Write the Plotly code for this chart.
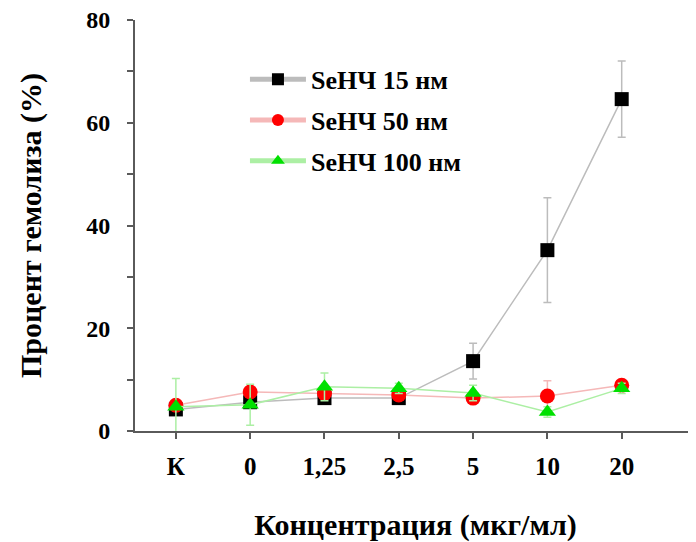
import plotly.graph_objects as go

categories = ["К", "0", "1,25", "2,5", "5", "10", "20"]
se15 = [4.2, 5.6, 6.4, 6.4, 13.6, 35.2, 64.6]
se15_err = [1.0, 1.0, 1.0, 1.0, 3.5, 10.2, 7.4]
se50 = [5.0, 7.6, 7.3, 7.0, 6.4, 6.8, 8.9]
se50_err = [1.0, 1.0, 1.0, 1.0, 1.0, 3.0, 1.0]
se100 = [4.7, 5.1, 8.6, 8.3, 7.4, 3.7, 8.3]
se100_err = [5.5, 4.0, 2.7, 1.0, 1.5, 1.0, 1.0]
names = ["SeНЧ 15 нм", "SeНЧ 50 нм", "SeНЧ 100 нм"]

FONT = "Liberation Serif, Times New Roman, serif"

fig = go.Figure()
specs = [
    (se15, se15_err, names[0], "#000000", "#bcbcbc", "square", 14),
    (se50, se50_err, names[1], "#ff0000", "#f5b8b8", "circle", 15),
    (se100, se100_err, names[2], "#00e000", "#acefa4", "triangle-up", 15),
]
for i, (y, e, n, mc, lc, sym, sz) in enumerate(specs):
    fig.add_trace(go.Scatter(
        x=categories, y=y, name=n, mode="lines+markers",
        legendgroup=str(i),
        line=dict(color=lc, width=1.5),
        marker=dict(color=mc, symbol=sym, size=sz),
        error_y=dict(type="data", array=e, visible=True, color=lc, thickness=1.5, width=4),
    ))

fig.update_layout(
    width=688, height=534,
    margin=dict(l=127, r=0, t=12, b=111),
    plot_bgcolor="white", paper_bgcolor="white",
    font=dict(family=FONT, size=22, color="black", weight="bold"),
    showlegend=True,
    legend=dict(
        x=0.196, y=0.913, xanchor="left", yanchor="top",
        font=dict(family=FONT, size=26, color="black", weight="bold"),
        bgcolor="rgba(0,0,0,0)", tracegroupgap=4, traceorder="grouped",
        itemsizing="constant", itemwidth=56,
    ),
    xaxis=dict(
        type="category", categoryorder="array", categoryarray=categories,
        range=[-0.55, 7.0], automargin=False,
        showline=True, linecolor="#5a5a5a", linewidth=2,
        ticks="outside", ticklen=6, tickcolor="#5a5a5a", tickwidth=2,
        minor=dict(ticks="outside", ticklen=6, tickcolor="#5a5a5a", tickwidth=2),
        showgrid=False, zeroline=False, ticklabelstandoff=6,
        ticklabeloverflow="allow",
        tickfont=dict(family=FONT, size=25, weight="bold"),
        title=dict(text="Концентрация (мкг/мл)", font=dict(family=FONT, size=30, weight="bold"), standoff=46),
    ),
    yaxis=dict(
        range=[0, 80], tickvals=[0, 20, 40, 60, 80], automargin=False,
        showline=True, linecolor="#5a5a5a", linewidth=2,
        ticks="outside", ticklen=6, tickcolor="#5a5a5a", tickwidth=2,
        minor=dict(dtick=10, ticks="outside", ticklen=6, tickcolor="#5a5a5a", tickwidth=2),
        showgrid=False, zeroline=False, ticklabelstandoff=12,
        ticklabeloverflow="allow",
        tickfont=dict(family=FONT, size=24, weight="bold"),
        title=dict(text="Процент гемолиза (%)", font=dict(family=FONT, size=30, weight="bold"), standoff=36),
    ),
)

fig.write_html("out.html")
